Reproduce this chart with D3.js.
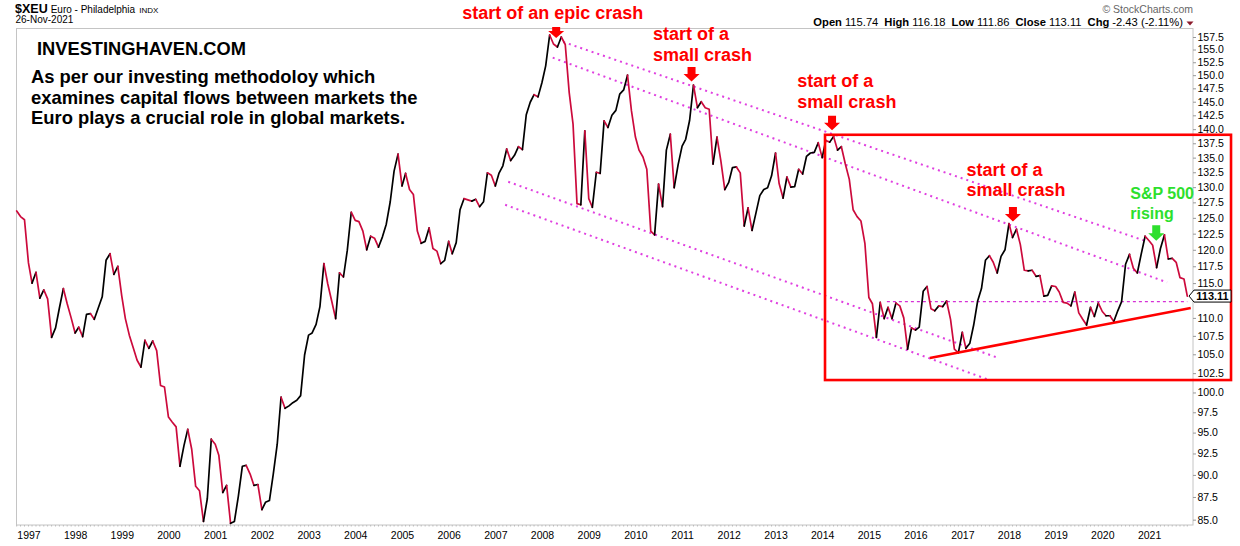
<!DOCTYPE html>
<html><head><meta charset="utf-8">
<script src="https://cdn.jsdelivr.net/npm/d3@7"></script>
<style>
body{margin:0;background:#fff}
svg{display:block}
text{font-family:"Liberation Sans",Arial,Helvetica,sans-serif}
</style>
</head><body>
<svg id="c" width="1240" height="546"></svg>
<script>
// ---------- DATA (monthly closes of $XEU) ----------
const firstMonth = "1996-10";          // first monthly bar
const lastDate = "2021-11-26";         // last (partial) bar
const close1996 = [126.1,125.2,124.7];
const close1997 = [118.0,115.0,116.6,112.8,114.0,112.7,107.3,108.6,111.4,114.2,112.0,110.0];
const close1998 = [107.9,108.7,107.4,110.5,110.6,109.8,111.4,113.0,118.4,119.4,116.3,117.5];
const close1999 = [113.1,109.9,107.6,105.9,104.2,103.3,106.9,105.8,106.8,105.5,100.9,100.7];
const close2000 = [96.9,96.3,95.7,91.0,93.4,95.4,93.0,88.7,88.2,84.8,87.3,94.2];
const close2001 = [93.6,92.3,88.0,88.8,84.6,84.8,87.6,91.0,91.1,90.1,88.8,88.9];
const close2002 = [86.1,86.9,87.1,90.1,93.6,99.4,98.0,98.3,98.7,99.0,99.6,104.9];
const close2003 = [107.6,107.9,109.1,111.6,117.9,114.9,112.4,109.9,116.5,115.9,119.9,125.9];
const close2004 = [124.6,124.4,122.9,120.0,122.1,121.8,120.4,122.0,124.0,127.6,132.7,135.6];
const close2005 = [130.2,132.3,129.6,128.8,122.9,121.0,121.3,123.4,120.2,119.8,117.9,118.4];
const close2006 = [121.3,119.4,121.1,126.3,128.1,127.9,127.7,128.0,126.8,127.6,132.4,132.0];
const close2007 = [130.2,132.3,133.6,136.5,134.5,135.4,136.9,136.4,142.6,144.9,146.3,145.9];
const close2008 = [148.6,151.8,157.9,156.1,155.5,157.5,156.0,146.7,140.9,127.3,127.1,139.7];
const close2009 = [128.1,126.7,132.5,132.3,141.5,140.3,142.5,143.4,146.4,147.2,150.0,143.3];
const close2010 = [138.6,136.3,135.1,133.0,122.9,122.3,130.5,126.8,136.3,139.1,129.9,133.8];
const close2011 = [137.0,138.2,141.6,148.1,143.9,145.0,143.9,143.6,133.9,138.6,134.5,129.6];
const close2012 = [130.8,133.3,133.4,132.4,123.7,126.6,123.0,125.8,128.6,129.6,129.9,131.9];
const close2013 = [135.8,130.6,128.2,131.7,130.0,130.1,133.0,132.2,135.2,135.8,135.9,137.6];
const close2014 = [135.0,138.0,137.7,138.7,136.3,136.9,133.9,131.3,126.3,125.2,124.5,121.0];
const close2015 = [112.9,112.0,107.3,112.2,109.9,111.5,109.9,112.1,111.7,110.0,105.7,108.6];
const close2016 = [108.3,108.7,113.8,114.5,111.3,111.0,111.7,111.6,112.4,109.8,105.7,105.2];
const close2017 = [108.0,105.8,106.5,109.0,112.4,114.2,118.4,119.1,118.1,116.5,119.0,120.0];
const close2018 = [124.1,121.9,123.2,120.8,116.9,116.8,116.9,116.0,116.1,113.1,113.2,114.6];
const close2019 = [114.5,113.7,112.2,112.1,111.7,113.7,110.7,109.8,109.0,111.5,110.2,112.1];
const close2020 = [110.9,110.3,110.3,109.5,111.0,112.3,117.8,119.3,117.2,116.5,119.3,122.1];
const close2021 = [121.4,120.7,117.3,120.2,122.3,118.6,118.7,118.1,115.8,115.6,113.11];

const yTickValues = [85.0,87.5,90.0,92.5,95.0,97.5,100.0,102.5,105.0,107.5,110.0,112.5,115.0,117.5,120.0,122.5,125.0,127.5,130.0,132.5,135.0,137.5,140.0,142.5,145.0,147.5,150.0,152.5,155.0,157.5];
const yearLabels = [1997,1998,1999,2000,2001,2002,2003,2004,2005,2006,2007,2008,2009,2010,2011,2012,2013,2014,2015,2016,2017,2018,2019,2020,2021];

// hand-drawn annotation lines, as [date, value]
const channelLines = [
  [["2008-07-15",156.5],["2020-12-28",121.4]],
  [["2008-04-24",153.4],["2021-06-21",115.1]],
  [["2007-05-12",130.9],["2017-10-25",104.6]],
  [["2007-04-18",127.1],["2017-08-15",101.7]]
];
const supportLine = [["2016-05-22",104.5],["2021-12-23",111.4]];
const levelLine = [["2015-06-21",112.3],["2021-11-26",112.3]];
const focusBox = [["2014-02-22",139.0],["2022-11-03",101.6]];

const crashNotes = [
  {text:["start of an epic crash"], at:["2008-05-21",157.3]},
  {text:["start of a","small crash"], at:["2011-04-15",148.8]},
  {text:["start of a","small crash"], at:["2014-04-18",139.8]},
  {text:["start of a","small crash"], at:["2018-03-03",124.4]}
];
const spNote = {text:["S&P 500","rising"], at:["2021-03-28",121.4]};

const quote = [["Open","115.74"],["High","116.18"],["Low","111.86"],["Close","113.11"],["Chg","-2.43 (-2.11%)"]];
const lastClose = 113.11;

// ---------- LAYOUT ----------
const L = {left:16, right:1193, top:28.5, bottom:525};
const noteLayout = [
  {dx:-94, dy:[-19], head:7, shaft:4},
  {dx:-38.5, dy:[-41.5,-20.5], head:7.5, shaft:7},
  {dx:-34.7, dy:[-43,-22], head:7.5, shaft:7},
  {dx:-46.5, dy:[-46,-26], head:7.5, shaft:7}
];
const spLayout = {dx:-26, dy:[-42,-22], head:7.5, shaft:8};

const parse = d3.timeParse("%Y-%m-%d");
const allCloses = [].concat(close1996,close1997,close1998,close1999,close2000,close2001,close2002,close2003,close2004,close2005,close2006,close2007,close2008,close2009,close2010,close2011,close2012,close2013,close2014,close2015,close2016,close2017,close2018,close2019,close2020,close2021);
const [fy, fm] = firstMonth.split("-").map(Number);
const series = allCloses.map((v,i) => ({
  date: i === allCloses.length-1 ? parse(lastDate) : new Date(fy, fm - 1 + i + 1, 0),
  value: v
}));

const x = d3.scaleTime().domain([series[0].date, series[series.length-1].date]).range([16.7, 1187.3]);
const y = d3.scaleLog().domain([84.42, 159.22]).range([L.bottom, L.top]);

const svg = d3.select("#c");

// header
const h = svg.append("text").attr("x",15).attr("y",12.5);
h.append("tspan").attr("font-weight","bold").attr("font-size",12.5).text("$XEU");
h.append("tspan").attr("font-size",10).attr("dx",3).text("Euro - Philadelphia");
h.append("tspan").attr("font-size",8).attr("dx",4).text("INDX");
svg.append("text").attr("x",15.5).attr("y",23).attr("font-size",10).text("26-Nov-2021");
svg.append("text").attr("x",1193).attr("y",12.5).attr("text-anchor","end").attr("font-size",10.5).attr("fill","#666").text("\u00A9 StockCharts.com");
const q = svg.append("text").attr("x",1183).attr("y",26).attr("text-anchor","end").attr("font-size",11.2);
quote.forEach((p,i) => {
  q.append("tspan").attr("font-weight","bold").attr("dx", i? 6:0).text(p[0]);
  q.append("tspan").attr("dx",3).text(p[1]);
});
svg.append("path").attr("d","M1186.5,21.5 L1193.5,21.5 L1190,25.5 Z").attr("fill","#8b1a2b");

// plot frame
svg.append("rect").attr("x",L.left+0.5).attr("y",L.top).attr("width",L.right-L.left-0.5).attr("height",L.bottom-L.top)
  .attr("fill","none").attr("stroke","#c4c4c4").attr("stroke-width",1);

// y axis (right); the label hidden under the last-value marker is not drawn
const ly = y(lastClose);
const yAxis = d3.axisRight(y).tickValues(yTickValues).tickSize(3).tickPadding(1.5).tickFormat(d3.format(".1f"));
const ya = svg.append("g").attr("transform",`translate(${L.right},0)`).call(yAxis);
ya.select(".domain").remove();
ya.selectAll("line").attr("stroke","#999");
ya.selectAll("text").attr("font-size",10.5).attr("fill","#000").attr("font-family",'"Liberation Sans",Arial,sans-serif');
ya.selectAll(".tick").filter(d => Math.abs(y(d) - ly) < 9).select("text").remove();

// x axis (bottom)
const yearTicks = yearLabels.map(yr => new Date(yr, 1, 0));
const xAxis = d3.axisBottom(x).tickValues(yearTicks).tickSize(0).tickPadding(7).tickFormat(d3.timeFormat("%Y"));
const xa = svg.append("g").attr("transform",`translate(0,${L.bottom})`).call(xAxis);
xa.select(".domain").remove();
xa.selectAll("text").attr("font-size",10.5).attr("fill","#000").attr("font-family",'"Liberation Sans",Arial,sans-serif');
// monthly dotted ticks along bottom
svg.append("g").selectAll("line").data(series).join("line")
  .attr("x1",d=>x(d.date)).attr("x2",d=>x(d.date)).attr("y1",L.bottom).attr("y2",L.bottom+1.5)
  .attr("stroke","#bbb").attr("stroke-width",1);

const pt = p => [x(parse(p[0])), y(p[1])];

// channel lines
svg.append("g").selectAll("line").data(channelLines).join("line")
  .attr("x1",d=>pt(d[0])[0]).attr("y1",d=>pt(d[0])[1]).attr("x2",d=>pt(d[1])[0]).attr("y2",d=>pt(d[1])[1])
  .attr("stroke","#e040e0").attr("stroke-width",2).attr("stroke-dasharray","2,4");

// level line
svg.append("line")
  .attr("x1",pt(levelLine[0])[0]).attr("y1",pt(levelLine[0])[1]).attr("x2",pt(levelLine[1])[0]).attr("y2",pt(levelLine[1])[1])
  .attr("stroke","#d630d6").attr("stroke-width",1.2).attr("stroke-dasharray","3,3");

// price line: black when rising, crimson when falling
const segs = svg.append("g").attr("fill","none").attr("stroke-width",1.7).attr("stroke-linejoin","round").attr("stroke-linecap","round");
const lineGen = d3.line().x(d=>x(d.date)).y(d=>y(d.value));
let run = [series[0]], runUp = series[1].value >= series[0].value;
for (let i=1;i<series.length;i++){
  const up = series[i].value >= series[i-1].value;
  if (up !== runUp){
    segs.append("path").attr("d",lineGen(run)).attr("stroke", runUp ? "#000" : "#cc0a3c");
    run = [series[i-1]]; runUp = up;
  }
  run.push(series[i]);
}
segs.append("path").attr("d",lineGen(run)).attr("stroke", runUp ? "#000" : "#cc0a3c");

// support line
svg.append("line")
  .attr("x1",pt(supportLine[0])[0]).attr("y1",pt(supportLine[0])[1]).attr("x2",pt(supportLine[1])[0]).attr("y2",pt(supportLine[1])[1])
  .attr("stroke","#ff0000").attr("stroke-width",2.6);

// focus box
const b0 = pt(focusBox[0]), b1 = pt(focusBox[1]);
svg.append("rect").attr("x",b0[0]).attr("y",b0[1]).attr("width",b1[0]-b0[0]).attr("height",b1[1]-b0[1])
  .attr("fill","none").attr("stroke","#ff0000").attr("stroke-width",2.6);

// last value marker
svg.append("path").attr("d",`M1189,${ly} L1194,${ly-6} L1231,${ly-6} L1231,${ly+6} L1194,${ly+6} Z`)
  .attr("fill","#fff").attr("stroke","#000").attr("stroke-width",1);
svg.append("text").attr("x",1212.5).attr("y",ly+4).attr("text-anchor","middle").attr("font-size",11).attr("font-weight","bold").text(lastClose.toFixed(2));

// arrows and notes
function arrow(tx, ty, lay, color){
  const hw = 8, sw = 4;
  const d = `M${tx},${ty} L${tx-hw},${ty-lay.head} L${tx-sw},${ty-lay.head} L${tx-sw},${ty-lay.head-lay.shaft} L${tx+sw},${ty-lay.head-lay.shaft} L${tx+sw},${ty-lay.head} L${tx+hw},${ty-lay.head} Z`;
  svg.append("path").attr("d",d).attr("fill",color);
}
function note(n, lay, color, size){
  const [tx,ty] = pt(n.at);
  arrow(tx, ty, lay, color);
  n.text.forEach((t,i) => {
    svg.append("text").attr("x",tx+lay.dx).attr("y",ty+lay.dy[i]).attr("font-size",size).attr("font-weight","bold").attr("fill",color).text(t);
  });
}
crashNotes.forEach((n,i) => note(n, noteLayout[i], "#ff0000", 18));
note(spNote, spLayout, "#2ddf2d", 16);

// commentary
svg.append("text").attr("x",37).attr("y",55).attr("font-size",18.3).attr("font-weight","bold").text("INVESTINGHAVEN.COM");
const para = ["As per our investing methodoloy which","examines capital flows between markets the","Euro plays a crucial role in global markets."];
para.forEach((t,i) => svg.append("text").attr("x",31).attr("y",83+i*20.5).attr("font-size",18.4).attr("font-weight","bold").text(t));
</script>
</body></html>
